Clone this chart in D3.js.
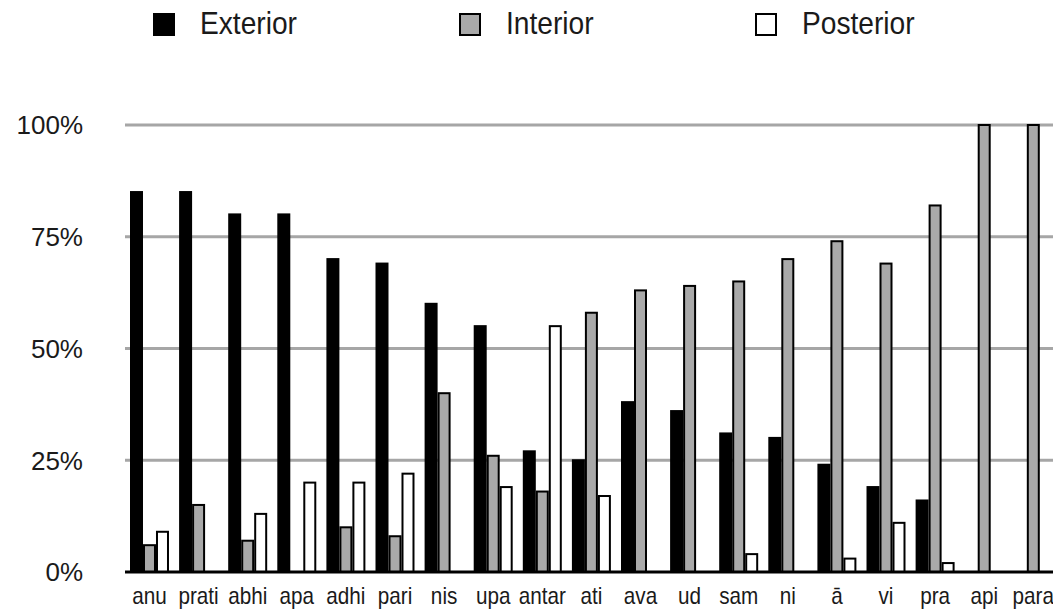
<!DOCTYPE html>
<html>
<head>
<meta charset="utf-8">
<script src="https://cdn.jsdelivr.net/npm/d3@7"></script>
<style>
  html, body { margin: 0; padding: 0; background: #fff; }
  svg { display: block; font-family: "Liberation Sans", Arial, sans-serif; }
</style>
</head>
<body>
<svg id="chart" width="1053" height="613"></svg>
<script>
const categories = ["anu","prati","abhi","apa","adhi","pari","nis","upa","antar","ati","ava","ud","sam","ni","ā","vi","pra","api","para"];
const exterior  = [85, 85, 80, 80, 70, 69, 60, 55, 27, 25, 38, 36, 31, 30, 24, 19, 16, 0, 0];
const interior  = [6, 15, 7, 0, 10, 8, 40, 26, 18, 58, 63, 64, 65, 70, 74, 69, 82, 100, 100];
const posterior = [9, 0, 13, 20, 20, 22, 0, 19, 55, 17, 0, 0, 4, 0, 3, 11, 2, 0, 0];
const seriesNames = ["Exterior", "Interior", "Posterior"];
const yTicks = [0, 25, 50, 75, 100];
const yTickLabels = ["0%", "25%", "50%", "75%", "100%"];

const colors = {Exterior: "#000000", Interior: "#a9a9a9", Posterior: "#ffffff"};
const seriesData = {Exterior: exterior, Interior: interior, Posterior: posterior};

const svg = d3.select("#chart");
const plotLeft = 125, plotRight = 1053, plotTop = 125, plotBottom = 572;

const y = d3.scaleLinear().domain([0, 100]).range([plotBottom, plotTop]);
const x0 = d3.scaleBand().domain(categories).range([130, 1052.8]).paddingInner(0.206).paddingOuter(0);
const x1 = d3.scaleBand().domain(seriesNames).range([0, x0.bandwidth()]).padding(0);

// gridlines
svg.append("g").selectAll("line").data(yTicks.filter(d => d > 0)).join("line")
  .attr("x1", plotLeft).attr("x2", plotRight)
  .attr("y1", d => y(d)).attr("y2", d => y(d))
  .attr("stroke", "#a6a6a6").attr("stroke-width", 3);

// y labels
svg.append("g").selectAll("text").data(yTicks).join("text")
  .attr("x", 83).attr("y", d => y(d))
  .attr("dy", "0.36em")
  .attr("text-anchor", "end")
  .attr("font-size", 26)
  .attr("fill", "#1a1a1a")
  .text((d, i) => yTickLabels[i]);

// bars
const groups = svg.append("g").selectAll("g").data(categories).join("g")
  .attr("transform", d => `translate(${x0(d)},0)`);
groups.selectAll("rect").data((c, i) => seriesNames.map(s => ({s, v: seriesData[s][i]})).filter(d => d.v > 0)).join("rect")
  .attr("x", d => x1(d.s) + 1)
  .attr("width", x1.bandwidth() - 2)
  .attr("y", d => y(d.v))
  .attr("height", d => plotBottom - y(d.v))
  .attr("fill", d => colors[d.s])
  .attr("stroke", "#000").attr("stroke-width", 2);

// baseline
svg.append("line").attr("x1", plotLeft).attr("x2", plotRight)
  .attr("y1", y(0)).attr("y2", y(0))
  .attr("stroke", "#000").attr("stroke-width", 3);

// x labels
svg.append("g").selectAll("text").data(categories).join("text")
  .attr("transform", d => `translate(${x0(d) + x0.bandwidth() / 2},604) scale(0.9,1)`)
  .attr("text-anchor", "middle")
  .attr("font-size", 23)
  .attr("fill", "#1a1a1a")
  .text(d => d);

// legend
const legendX = [153, 459, 755];
const leg = svg.append("g").selectAll("g").data(seriesNames).join("g")
  .attr("transform", (d, i) => `translate(${legendX[i]},13)`);
leg.append("rect").attr("x", 1).attr("y", 1).attr("width", 20).attr("height", 21)
  .attr("fill", d => colors[d]).attr("stroke", "#000").attr("stroke-width", 2);
leg.append("text").attr("transform", "translate(47,21) scale(0.88,1)").attr("font-size", 32)
  .attr("fill", "#1a1a1a")
  .text(d => d);
</script>
</body>
</html>
